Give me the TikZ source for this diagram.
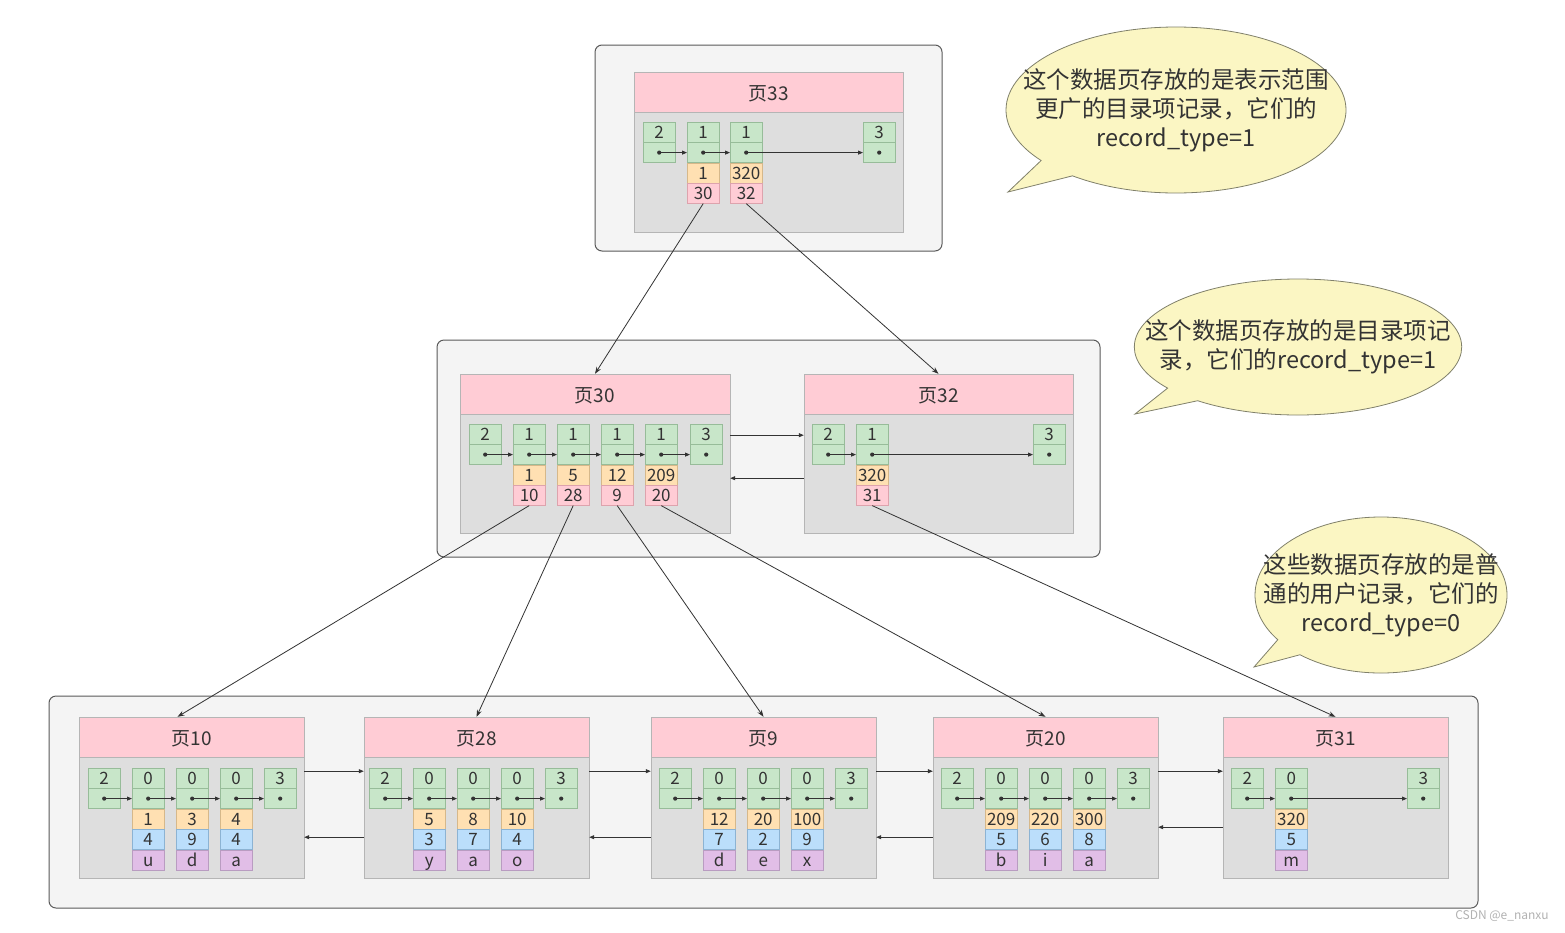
\documentclass[tikz,border=0pt]{standalone}
\usepackage{fontspec}
\setmainfont{Noto Sans CJK SC}
\usetikzlibrary{positioning,arrows.meta,shapes.callouts}

\definecolor{grpfill}{HTML}{F4F4F4}
\definecolor{grpline}{HTML}{5A5A5A}
\definecolor{headpink}{HTML}{FFCCD5}
\definecolor{bodygray}{HTML}{DEDEDE}
\definecolor{pageline}{HTML}{B5B5B5}
\definecolor{cgreen}{HTML}{C8E6C9}
\definecolor{cgreenl}{HTML}{97BC99}
\definecolor{corange}{HTML}{FFE0B2}
\definecolor{corangel}{HTML}{D6B88A}
\definecolor{cpinkl}{HTML}{DDA3AD}
\definecolor{cblue}{HTML}{BBDEFB}
\definecolor{cbluel}{HTML}{8CB3D3}
\definecolor{cviolet}{HTML}{E1BEE7}
\definecolor{cvioletl}{HTML}{B99CC1}
\definecolor{notefill}{HTML}{FBF6C3}
\definecolor{noteline}{HTML}{80806A}
\definecolor{ink}{HTML}{333333}

\tikzset{
  grp/.style={draw=grpline, fill=grpfill, line width=1pt, rounded corners=7pt},
  pghead/.style={draw=pageline, fill=headpink, minimum height=40pt, inner sep=0pt,
    text height=17pt, text depth=0pt, font=\fontsize{19pt}{22pt}\selectfont, text=ink},
  pgbody/.style={draw=pageline, fill=bodygray, inner sep=0pt},
  cell/.style={minimum width=32pt, minimum height=20pt, inner sep=0pt,
    text height=14.5pt, text depth=1.5pt, font=\fontsize{17pt}{20pt}\selectfont, text=ink},
  gcell/.style={cell, draw=cgreenl, fill=cgreen},
  ocell/.style={cell, draw=corangel, fill=corange},
  kcell/.style={cell, draw=cpinkl, fill=headpink},
  bcell/.style={cell, draw=cbluel, fill=cblue},
  vcell/.style={cell, draw=cvioletl, fill=cviolet},
  nxt/.style={draw=ink, line width=0.8pt, -{Triangle[length=5pt,width=4pt]}},
  down/.style={draw=ink, line width=0.8pt, -{Stealth[length=7pt,width=5pt]}},
  note/.style={ellipse callout, draw=noteline, fill=notefill, line width=0.8pt,
    inner ysep=0pt, align=center, font=\fontsize{23.5pt}{29pt}\selectfont, text=ink}
}

% one record: type number on top, next pointer below
\newcommand{\recslot}[4]{%
  \node[gcell, anchor=north west] (#1-t) at (#2,#3) {#4};
  \node[gcell, below=0pt of #1-t] (#1) {};
  \fill[ink] (#1.center) circle (2.1pt);
}
% directory record: min key, page number
\newcommand{\dirrec}[3]{%
  \node[ocell, below=0pt of #1] (#1-k) {#2};
  \node[kcell, below=0pt of #1-k] (#1-p) {#3};
}
% user record: key, two columns
\newcommand{\userrec}[4]{%
  \node[ocell, below=0pt of #1] (#1-k) {#2};
  \node[bcell, below=0pt of #1-k] (#1-v) {#3};
  \node[vcell, below=0pt of #1-v] (#1-c) {#4};
}

\begin{document}
\begin{tikzpicture}[x=1pt, y=-1pt]
  \useasboundingbox (0,0) rectangle (1565,932);
  \fill[white] (0,0) rectangle (1565,932);

  % Draw the three levels
  \draw[grp] (595,45) rectangle (942,251);
  \draw[grp] (437,340) rectangle (1100,557);
  \draw[grp] (49,696) rectangle (1478,908);

  % 页33
  \node[pghead, minimum width=269pt] (h33) at (768.5,92) {页33};
  \node[pgbody, minimum width=269pt, minimum height=120pt, below=0pt of h33] (b33) {};
  \foreach \n/\x/\t in {p33a/643/2, p33b/687/1, p33c/730/1, p33d/863/3}
    \recslot{\n}{\x}{122}{\t};
  \dirrec{p33b}{1}{30}
  \dirrec{p33c}{320}{32}
  \foreach \a/\b in {p33a/p33b, p33b/p33c, p33c/p33d}
    \draw[nxt] (\a.center) -- (\b.west);

  % 页30
  \node[pghead, minimum width=270pt] (h30) at (595,394) {页30};
  \node[pgbody, minimum width=270pt, minimum height=119pt, below=0pt of h30] (b30) {};
  \foreach \n/\x/\t in {p30a/469/2, p30b/513/1, p30c/557/1, p30d/601/1, p30e/645/1, p30f/690/3}
    \recslot{\n}{\x}{424}{\t};
  \foreach \n/\k/\p in {p30b/1/10, p30c/5/28, p30d/12/9, p30e/209/20}
    \dirrec{\n}{\k}{\p};
  \foreach \a/\b in {p30a/p30b, p30b/p30c, p30c/p30d, p30d/p30e, p30e/p30f}
    \draw[nxt] (\a.center) -- (\b.west);

  % 页32
  \node[pghead, minimum width=269pt] (h32) at (938.5,394) {页32};
  \node[pgbody, minimum width=269pt, minimum height=119pt, below=0pt of h32] (b32) {};
  \foreach \n/\x/\t in {p32a/812/2, p32b/856/1, p32c/1033/3}
    \recslot{\n}{\x}{424}{\t};
  \dirrec{p32b}{320}{31}
  \foreach \a/\b in {p32a/p32b, p32b/p32c}
    \draw[nxt] (\a.center) -- (\b.west);

  \draw[nxt] ([yshift=-21pt]b30.north east) -- ([yshift=-21pt]b32.north west);
  \draw[nxt] ([yshift=-64pt]b32.north west) -- ([yshift=-64pt]b30.north east);

  % leaf pages
  \foreach \pg/\cx in {10/191.5, 28/476.5, 9/763.5, 20/1045.5, 31/1335.5} {
    \node[pghead, minimum width=225pt] (h\pg) at (\cx,737) {页\pg};
    \node[pgbody, minimum width=225pt, minimum height=121pt, below=0pt of h\pg] (b\pg) {};
  }

  \foreach \n/\x/\t in {p10a/88/2, p10b/132/0, p10c/176/0, p10d/220/0, p10e/264/3,
                        p28a/369/2, p28b/413/0, p28c/457/0, p28d/501/0, p28e/545/3,
                        p9a/659/2, p9b/703/0, p9c/747/0, p9d/791/0, p9e/835/3,
                        p20a/941/2, p20b/985/0, p20c/1029/0, p20d/1073/0, p20e/1117/3,
                        p31a/1231/2, p31b/1275/0, p31c/1407/3}
    \recslot{\n}{\x}{768}{\t};

  \foreach \n/\k/\v/\c in {p10b/1/4/u, p10c/3/9/d, p10d/4/4/a,
                           p28b/5/3/y, p28c/8/7/a, p28d/10/4/o,
                           p9b/12/7/d, p9c/20/2/e, p9d/100/9/x,
                           p20b/209/5/b, p20c/220/6/i, p20d/300/8/a,
                           p31b/320/5/m}
    \userrec{\n}{\k}{\v}{\c};

  \foreach \a/\b in {p10a/p10b, p10b/p10c, p10c/p10d, p10d/p10e,
                     p28a/p28b, p28b/p28c, p28c/p28d, p28d/p28e,
                     p9a/p9b, p9b/p9c, p9c/p9d, p9d/p9e,
                     p20a/p20b, p20b/p20c, p20c/p20d, p20d/p20e,
                     p31a/p31b, p31b/p31c}
    \draw[nxt] (\a.center) -- (\b.west);

  % links between leaf pages
  \foreach \a/\b/\d in {10/28/80, 28/9/80, 9/20/80, 20/31/70} {
    \draw[nxt] ([yshift=-14pt]b\a.north east) -- ([yshift=-14pt]b\b.north west);
    \draw[nxt] ([yshift=-\d pt]b\b.north west) -- ([yshift=-\d pt]b\a.north east);
  }

  % parent to child
  \draw[down] (p33b-p.south) -- (h30.north);
  \draw[down] (p33c-p.south) -- (h32.north);
  \draw[down] (p30b-p.south) -- ([xshift=-14pt]h10.north);
  \draw[down] (p30c-p.south) -- (h28.north);
  \draw[down] (p30d-p.south) -- (h9.north);
  \draw[down] (p30e-p.south) -- (h20.north);
  \draw[down] (p32b-p.south) -- (h31.north);

  % notes
  \node[note, inner xsep=-34pt, minimum width=340pt, minimum height=166pt,
        callout absolute pointer={(1008,192)}] (note1) at (1176,110)
    {这个数据页存放的是表示范围\\更广的目录项记录，它们的\\record\_type=1};
  \node[note, inner xsep=-37pt, minimum width=326pt, minimum height=136pt,
        callout absolute pointer={(1135,414)}] (note2) at (1298,347)
    {这个数据页存放的是目录项记\\录，它们的record\_type=1};
  \node[note, inner xsep=-29pt, minimum width=252pt, minimum height=156pt,
        callout absolute pointer={(1254,667)}] (note3) at (1381,595)
    {这些数据页存放的是普\\通的用户记录，它们的\\record\_type=0};

  \node[text=gray!60, font=\fontsize{12pt}{14pt}\selectfont] (mark) at (1502,916) {CSDN @e\_nanxu};
\end{tikzpicture}
\end{document}
